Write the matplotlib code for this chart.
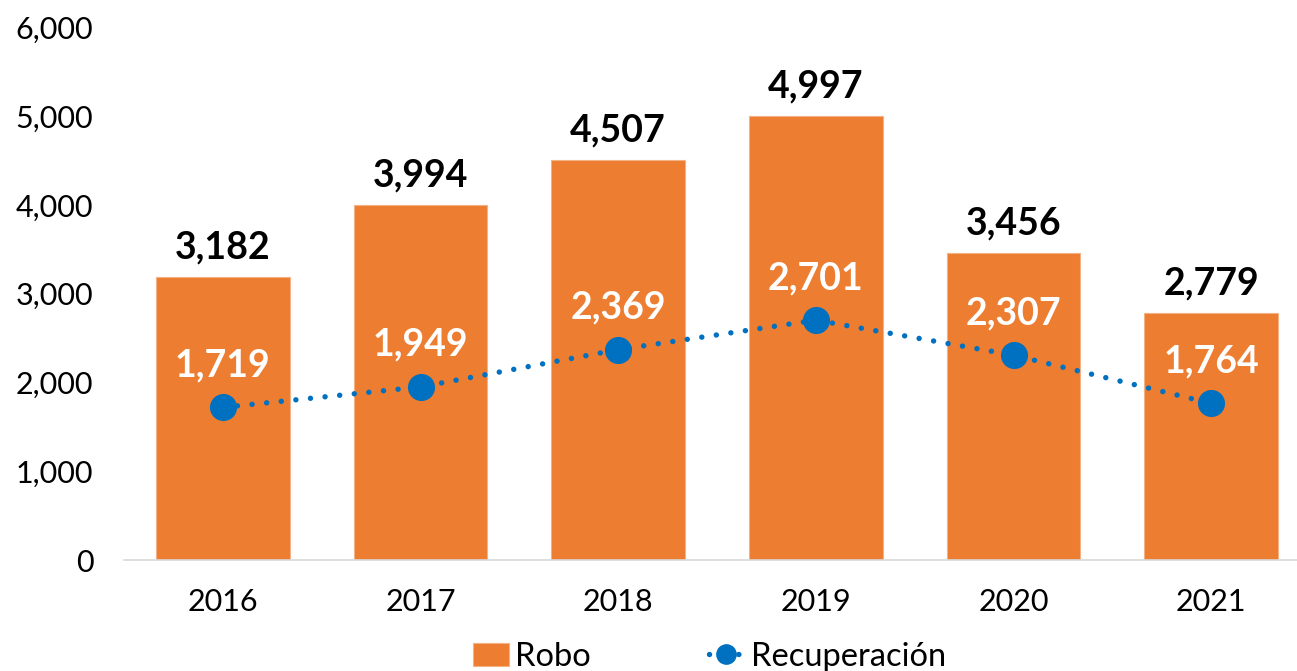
import numpy as np
import matplotlib.pyplot as plt

plt.rcParams['font.family'] = ['Lato', 'DejaVu Sans']

years = ['2016', '2017', '2018', '2019', '2020', '2021']
robo = [3182, 3994, 4507, 4997, 3456, 2779]
recuperacion = [1719, 1949, 2369, 2701, 2307, 1764]

ORANGE = '#ED7D31'
BLUE = '#0070C0'


def fmt(v):
	return f"{v:,}"


fig = plt.figure(figsize=(12.97, 6.71), dpi=100)
ax = fig.add_axes([124 / 1297, 111 / 671, 1186 / 1297, 532.8 / 671])

x = np.arange(len(years))
bars = ax.bar(x, robo, width=0.675, color=ORANGE, edgecolor='#F4B183', linewidth=0.8, label='Robo', zorder=2)
line, = ax.plot(x, recuperacion, linestyle=(0, (0.01, 2.7)), dash_capstyle='round', linewidth=3.9,
	color=BLUE, marker='o', markersize=18.5, label='Recuperación', zorder=3)

for xi, v in zip(x, robo):
	ax.annotate(fmt(v), (xi, v), xytext=(0, 9), textcoords='offset points',
		ha='center', va='bottom', fontsize=27, fontweight='bold', color='black')

for xi, v in zip(x, recuperacion):
	ax.annotate(fmt(v), (xi, v), xytext=(0, 18), textcoords='offset points',
		ha='center', va='bottom', fontsize=27, fontweight='bold', color='white', zorder=4)

ax.set_xlim(-0.5, 5.5)
ax.set_ylim(0, 6000)
ax.set_yticks(np.arange(0, 6001, 1000))
ax.set_yticklabels([fmt(t) for t in range(0, 6001, 1000)])
ax.set_xticks(x)
ax.set_xticklabels(years)
ax.tick_params(axis='both', length=0, labelsize=22)
ax.tick_params(axis='y', pad=22)
ax.tick_params(axis='x', pad=20)

for side in ['top', 'right', 'left']:
	ax.spines[side].set_visible(False)
ax.spines['bottom'].set_color('#D9D9D9')
ax.spines['bottom'].set_linewidth(1.2)

leg = fig.legend([bars, line], ['Robo', 'Recuperación'], loc='lower center', bbox_to_anchor=(0.547, -0.045),
	ncol=2, frameon=False, fontsize=23.5, handlelength=1.1, handletextpad=0.2, columnspacing=3.6,
	markerscale=0.75)

fig.savefig('out.png', dpi=100)
